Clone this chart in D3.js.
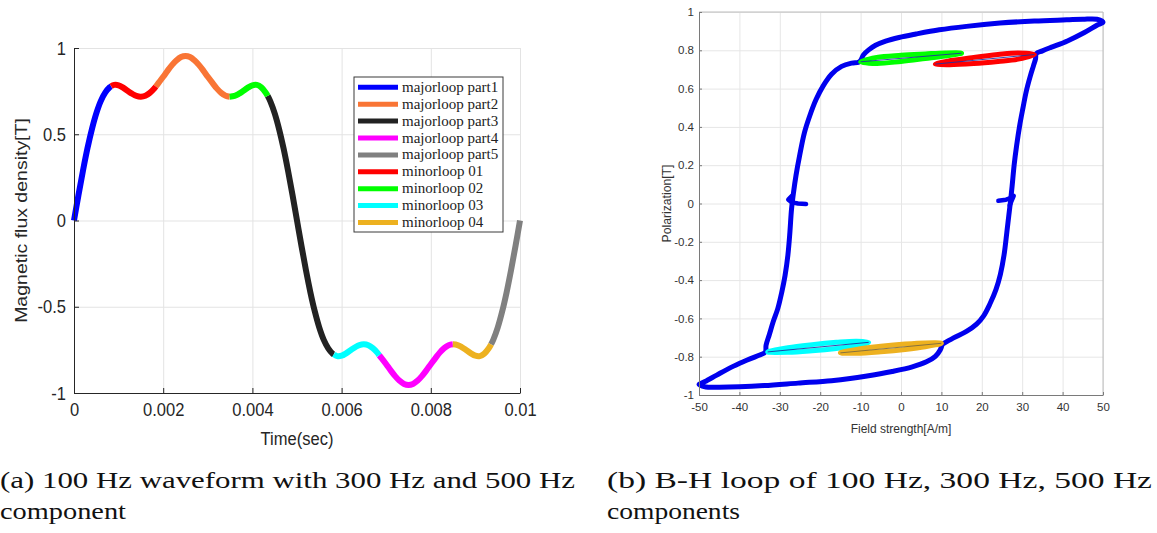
<!DOCTYPE html>
<html><head><meta charset="utf-8">
<script src="https://cdn.jsdelivr.net/npm/d3@7"></script>
<style>
html,body{margin:0;padding:0;background:#fff;}
svg{display:block;}
</style></head>
<body>
<svg id="c" width="1157" height="533"></svg>
<script>
// ================= DATA =================
// (a) waveform: time in ms, flux density in T
const waveTimeMs = [0,0.1,0.2,0.3,0.4,0.5,0.6,0.7,0.8,0.833,0.9,1.0,1.1,1.2,1.3,1.4,1.5,1.6,1.7,1.8,1.835,1.9,2.0,2.1,2.2,2.3,2.4,2.5,2.6,2.7,2.8,2.9,3.0,3.1,3.2,3.3,3.4,3.49,3.6,3.7,3.8,3.9,4.0,4.1,4.2,4.3,4.343,4.4,4.5,4.6,4.7,4.8,4.9,5.0,
  5.1,5.2,5.3,5.4,5.5,5.6,5.7,5.8,5.825,5.9,6.0,6.1,6.2,6.3,6.4,6.5,6.6,6.7,6.8,6.843,6.9,7.0,7.1,7.2,7.3,7.4,7.5,7.6,7.7,7.8,7.9,8.0,8.1,8.2,8.3,8.4,8.494,8.6,8.7,8.8,8.9,9.0,9.1,9.2,9.3,9.351,9.4,9.5,9.6,9.7,9.8,9.9,10.0];
const waveB = [0,0.147,0.287,0.416,0.528,0.621,0.692,0.741,0.772,0.778,0.786,0.784,0.770,0.752,0.735,0.722,0.718,0.723,0.740,0.766,0.777,0.799,0.833,0.869,0.902,0.929,0.948,0.954,0.948,0.929,0.902,0.869,0.833,0.799,0.766,0.740,0.723,0.718,0.722,0.735,0.752,0.770,0.784,0.786,0.772,0.741,0.722,0.692,0.621,0.528,0.416,0.287,0.147,0,
  -0.147,-0.287,-0.416,-0.528,-0.621,-0.692,-0.741,-0.772,-0.776,-0.786,-0.784,-0.770,-0.752,-0.735,-0.722,-0.718,-0.723,-0.740,-0.766,-0.781,-0.799,-0.833,-0.869,-0.902,-0.929,-0.948,-0.954,-0.948,-0.929,-0.902,-0.869,-0.833,-0.799,-0.766,-0.740,-0.723,-0.718,-0.722,-0.735,-0.752,-0.770,-0.784,-0.786,-0.772,-0.741,-0.718,-0.692,-0.621,-0.528,-0.416,-0.287,-0.147,0];

const seriesNames  = ["majorloop part1","majorloop part2","majorloop part3","majorloop part4","majorloop part5","minorloop 01","minorloop 02","minorloop 03","minorloop 04"];
const seriesColors = ["#0000ff","#f97535","#222222","#ff00ff","#808080","#ff0000","#00ff00","#00ffff","#edb120"];
const segStartMs   = [0, 1.835, 4.343, 6.843, 9.351, 0.833, 3.49, 5.825, 8.494];
const segEndMs     = [0.833, 3.49, 5.825, 8.494, 10.0, 1.835, 4.343, 6.843, 9.351];

const timeTicks      = [0,0.002,0.004,0.006,0.008,0.01];
const timeTickLabels = ["0","0.002","0.004","0.006","0.008","0.01"];
const fluxTicks      = [-1,-0.5,0,0.5,1];
const fluxTickLabels = ["-1","-0.5","0","0.5","1"];

// (b) B-H loop: H in A/m, J in T
const majorH = [10.2,12.9,16.2,18.7,20.5,22.0,23.5,24.6,25.5,26.2,26.7,27.1,27.5,28.0,28.6,29.4,30.2,31.0,32.0,32.8,33.3,33.5,
  35.0,37.1,41.2,45.4,48.6,50.0,
  48.5,45.0,41.0,33.0,24.5,16.2,9.5,3.7,-0.5,-3.8,-6.3,-8.0,-9.3,-9.9,-10.5,
  -12.2,-14.7,-17.2,-19.3,-21.0,-22.6,-23.9,-25.1,-26.0,-26.6,-27.1,-27.5,-28.0,-28.7,-29.5,-30.5,-31.6,-32.6,-33.4,-33.6,
  -35.6,-38.9,-42.2,-45.6,-48.5,-50.0,
  -48.3,-45.0,-40.0,-33.9,-25.5,-17.2,-12.6,-8.8,-2.2,2.8,6.3,8.5,9.7,10.2];
const majorJ = [-0.735,-0.703,-0.668,-0.630,-0.585,-0.525,-0.450,-0.370,-0.270,-0.150,-0.060,0.010,0.090,0.200,0.300,0.410,0.500,0.585,0.665,0.720,0.755,0.783,
  0.797,0.815,0.849,0.893,0.932,0.947,
  0.962,0.962,0.959,0.953,0.942,0.925,0.907,0.885,0.867,0.848,0.826,0.802,0.776,0.750,0.738,
  0.733,0.716,0.675,0.613,0.544,0.457,0.370,0.249,0.145,0.058,-0.030,-0.150,-0.270,-0.376,-0.462,-0.549,-0.615,-0.685,-0.740,-0.776,
  -0.796,-0.825,-0.857,-0.896,-0.930,-0.945,
  -0.958,-0.959,-0.957,-0.951,-0.938,-0.925,-0.914,-0.902,-0.877,-0.853,-0.827,-0.798,-0.765,-0.735];
const tailLeftH  = [-23.5,-25.5,-27.0,-27.9,-27.0];
const tailLeftJ  = [-0.003,0.0,0.006,0.020,0.040];
const tailRightH = [24.1,26.0,27.4,27.9,26.9];
const tailRightJ = [0.014,0.020,0.030,0.040,-0.010];

const minor01H = [8.5,12,18,24,29,33,29,24,18,12];
const minor01J = [0.728,0.725,0.731,0.742,0.754,0.778,0.786,0.778,0.763,0.745];
const minor02H = [-10,-6,0,6,11,15,11,6,0,-6];
const minor02J = [0.740,0.731,0.742,0.757,0.770,0.785,0.786,0.781,0.774,0.763];
const minor03H = [-33,-28,-22,-16,-11,-8,-11,-16,-22,-28];
const minor03J = [-0.775,-0.777,-0.769,-0.757,-0.743,-0.725,-0.719,-0.725,-0.737,-0.753];
const minor04H = [-15,-11,-5,1,6,10,6,1,-5,-11];
const minor04J = [-0.780,-0.782,-0.774,-0.762,-0.748,-0.730,-0.728,-0.734,-0.746,-0.762];
const minorColors = ["#ff0000","#00ff00","#00ffff","#edb120"];

const hTicks = [-50,-40,-30,-20,-10,0,10,20,30,40,50];
const hTickLabels = ["-50","-40","-30","-20","-10","0","10","20","30","40","50"];
const jTicks = [-1,-0.8,-0.6,-0.4,-0.2,0,0.2,0.4,0.6,0.8,1];
const jTickLabels = ["-1","-0.8","-0.6","-0.4","-0.2","0","0.2","0.4","0.6","0.8","1"];

const captionA = ["(a) 100 Hz waveform with 300 Hz and 500 Hz","component"];
const captionB = ["(b) B-H loop of 100 Hz, 300 Hz, 500 Hz","components"];

// ================= DRAW =================
const svg = d3.select("#c");
const SANS = "'Liberation Sans', Arial, Helvetica, sans-serif";
const SERIF = "'Liberation Serif', 'Times New Roman', serif";

// ---------- (a) waveform ----------
const xL = d3.scaleLinear().domain([0, 0.01]).range([74, 520]);
const yL = d3.scaleLinear().domain([-1, 1]).range([393, 48]);
const SQ = 0.87; // horizontal squash of left-panel text
const gA = svg.append("g");

// grid
gA.append("g").attr("transform", `translate(0,${yL(-1)})`)
  .call(d3.axisBottom(xL).tickValues(timeTicks).tickSize(-(yL(-1)-yL(1))).tickFormat(""))
  .call(g => { g.select(".domain").remove(); g.selectAll("line").attr("stroke", "#e3e3e3"); });
gA.append("g").attr("transform", `translate(${xL(0)},0)`)
  .call(d3.axisLeft(yL).tickValues(fluxTicks).tickSize(-(xL(0.01)-xL(0))).tickFormat(""))
  .call(g => { g.select(".domain").remove(); g.selectAll("line").attr("stroke", "#e3e3e3"); });

// waveform segments
const pts = waveTimeMs.map((t, i) => ({t: t, b: waveB[i]}));
const lineA = d3.line().x(d => xL(d.t / 1000)).y(d => yL(d.b)).curve(d3.curveCatmullRom.alpha(0.5));
seriesNames.forEach((n, i) => {
  const seg = pts.filter(p => p.t >= segStartMs[i] - 1e-9 && p.t <= segEndMs[i] + 1e-9);
  gA.append("path").datum(seg).attr("d", lineA)
    .attr("fill", "none").attr("stroke", seriesColors[i])
    .attr("stroke-width", 6).attr("stroke-linejoin", "round");
});

// axes
const axB = gA.append("g").attr("transform", `translate(0,${yL(-1)})`)
  .call(d3.axisBottom(xL).tickValues(timeTicks).tickSizeInner(-5).tickSizeOuter(0).tickPadding(10)
        .tickFormat((d, i) => timeTickLabels[i]));
axB.select(".domain").attr("stroke", "#262626");
axB.selectAll("line").attr("stroke", "#262626");
axB.selectAll("text").attr("font-family", SANS).attr("font-size", 19).attr("fill", "#262626")
  .attr("transform", `scale(${SQ},1)`);
const axL = gA.append("g").attr("transform", `translate(${xL(0)},0)`)
  .call(d3.axisLeft(yL).tickValues(fluxTicks).tickSizeInner(-5).tickSizeOuter(0).tickPadding(8)
        .tickFormat((d, i) => fluxTickLabels[i]));
axL.select(".domain").attr("stroke", "#262626");
axL.selectAll("line").attr("stroke", "#262626");
axL.selectAll("text").attr("font-family", SANS).attr("font-size", 19).attr("fill", "#262626")
  .attr("x", -8 / SQ).attr("transform", `scale(${SQ},1)`);

gA.append("text").attr("transform", `translate(${(xL(0)+xL(0.01))/2},445) scale(${SQ},1)`)
  .attr("text-anchor", "middle").attr("font-family", SANS).attr("font-size", 19).attr("fill", "#262626")
  .text("Time(sec)");
gA.append("text").attr("transform", `translate(21,${yL(0)}) rotate(-90) scale(1,${SQ})`)
  .attr("text-anchor", "middle").attr("dominant-baseline", "central")
  .attr("font-family", SANS).attr("font-size", 19.5).attr("fill", "#262626")
  .text("Magnetic flux density[T]");

// legend
const lg = gA.append("g");
lg.append("rect").attr("x", 354).attr("y", 77).attr("width", 149).attr("height", 155)
  .attr("fill", "#fff").attr("stroke", "#3a3a3a").attr("stroke-width", 1);
seriesNames.forEach((n, i) => {
  const yy = 87.3 + i * 16.9;
  lg.append("line").attr("x1", 358).attr("x2", 398).attr("y1", yy).attr("y2", yy)
    .attr("stroke", seriesColors[i]).attr("stroke-width", 5);
  lg.append("text").attr("x", 402).attr("y", yy + 4.5).attr("font-family", SERIF)
    .attr("font-size", 15).attr("fill", "#222").text(n);
});

// ---------- (b) B-H loop ----------
const xR = d3.scaleLinear().domain([-50, 50]).range([699, 1103]);
const yR = d3.scaleLinear().domain([-1, 1]).range([395, 12]);
const gB = svg.append("g");

gB.append("g").attr("transform", `translate(0,${yR(-1)})`)
  .call(d3.axisBottom(xR).tickValues(hTicks).tickSize(-(yR(-1)-yR(1))).tickFormat(""))
  .call(g => { g.select(".domain").remove(); g.selectAll("line").attr("stroke", "#e6e6e6"); });
gB.append("g").attr("transform", `translate(${xR(-50)},0)`)
  .call(d3.axisLeft(yR).tickValues(jTicks).tickSize(-(xR(50)-xR(-50))).tickFormat(""))
  .call(g => { g.select(".domain").remove(); g.selectAll("line").attr("stroke", "#e6e6e6"); });
// box top/right
gB.append("path").attr("d", `M${xR(-50)},${yR(1)}H${xR(50)}V${yR(-1)}`)
  .attr("fill", "none").attr("stroke", "#bdbdbd");

const lineB = d3.line().x(d => xR(d[0])).y(d => yR(d[1]));
const majorPts = majorH.map((h, i) => [h, majorJ[i]]);
gB.append("path").datum(majorPts).attr("d", lineB.curve(d3.curveCatmullRom.alpha(0.5))(majorPts))
  .attr("fill", "none").attr("stroke", "#0000ee").attr("stroke-width", 5).attr("stroke-linejoin", "round");
[[tailLeftH, tailLeftJ], [tailRightH, tailRightJ]].forEach(([hs, js]) => {
  const p = hs.map((h, i) => [h, js[i]]);
  gB.append("path").attr("d", d3.line().x(d => xR(d[0])).y(d => yR(d[1])).curve(d3.curveLinear)(p))
    .attr("fill", "none").attr("stroke", "#0000ee").attr("stroke-width", 4.5)
    .attr("stroke-linejoin", "round").attr("stroke-linecap", "round");
});

[[minor01H, minor01J], [minor02H, minor02J], [minor03H, minor03J], [minor04H, minor04J]].forEach(([hs, js], k) => {
  const p = hs.map((h, i) => [h, js[i]]);
  gB.append("path").attr("d", d3.line().x(d => xR(d[0])).y(d => yR(d[1])).curve(d3.curveCatmullRomClosed.alpha(0.5))(p))
    .attr("fill", "none").attr("stroke", minorColors[k]).attr("stroke-width", 5).attr("stroke-linejoin", "round");
  // thin inner trace between tips
  const tipL = p[0], tipR = p[5];
  gB.append("line").attr("x1", xR(tipL[0])).attr("y1", yR(tipL[1])).attr("x2", xR(tipR[0])).attr("y2", yR(tipR[1]))
    .attr("stroke", k === 3 ? "#7a6a40" : "#2030a0").attr("stroke-width", 0.9);
});

const axBB = gB.append("g").attr("transform", `translate(0,${yR(-1)})`)
  .call(d3.axisBottom(xR).tickValues(hTicks).tickSizeInner(-3).tickSizeOuter(0).tickPadding(8)
        .tickFormat((d, i) => hTickLabels[i]));
axBB.select(".domain").attr("stroke", "#7a7a7a");
axBB.selectAll("line").attr("stroke", "#7a7a7a");
axBB.selectAll("text").attr("font-family", SANS).attr("font-size", 11.5).attr("fill", "#333");
const axBL = gB.append("g").attr("transform", `translate(${xR(-50)},0)`)
  .call(d3.axisLeft(yR).tickValues(jTicks).tickSizeInner(-3).tickSizeOuter(0).tickPadding(6)
        .tickFormat((d, i) => jTickLabels[i]));
axBL.select(".domain").attr("stroke", "#7a7a7a");
axBL.selectAll("line").attr("stroke", "#7a7a7a");
axBL.selectAll("text").attr("font-family", SANS).attr("font-size", 11.5).attr("fill", "#333").attr("x", -5);

gB.append("text").attr("x", (xR(-50)+xR(50))/2).attr("y", 433).attr("text-anchor", "middle")
  .attr("font-family", SANS).attr("font-size", 12).attr("fill", "#333").text("Field strength[A/m]");
gB.append("text").attr("transform", `translate(667,${yR(0)}) rotate(-90)`)
  .attr("text-anchor", "middle").attr("dominant-baseline", "central")
  .attr("font-family", SANS).attr("font-size", 12.2).attr("fill", "#333").text("Polarization[T]");

// ---------- captions ----------
const capA = svg.append("g").attr("font-family", SERIF).attr("font-size", 23).attr("fill", "#111");
capA.append("text").attr("x", 0).attr("y", 488).attr("textLength", 575).attr("lengthAdjust", "spacingAndGlyphs").text(captionA[0]);
capA.append("text").attr("x", 0).attr("y", 519).attr("textLength", 126).attr("lengthAdjust", "spacingAndGlyphs").text(captionA[1]);
capA.append("text").attr("x", 607).attr("y", 488).attr("textLength", 545).attr("lengthAdjust", "spacingAndGlyphs").text(captionB[0]);
capA.append("text").attr("x", 607).attr("y", 519).attr("textLength", 133).attr("lengthAdjust", "spacingAndGlyphs").text(captionB[1]);
</script>
</body></html>
